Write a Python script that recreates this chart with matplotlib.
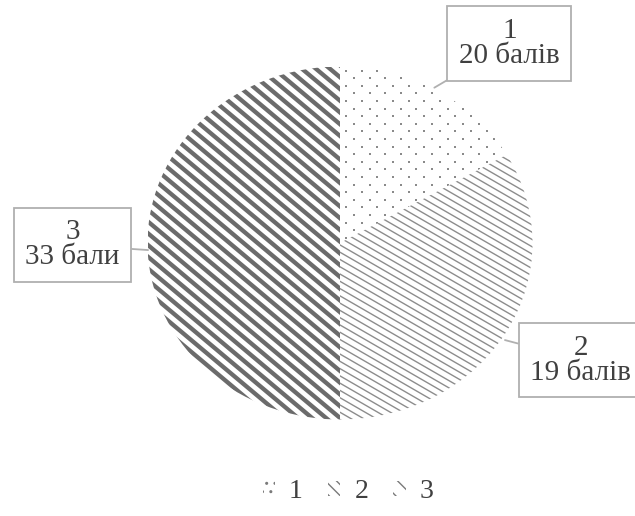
import numpy as np
import matplotlib
matplotlib.use("Agg")
import matplotlib.pyplot as plt
from matplotlib.collections import LineCollection
from matplotlib.patches import Patch

plt.rcParams['font.family'] = ['Liberation Serif', 'DejaVu Serif']

# Дані діаграми
categories = ["1", "2", "3"]
sizes = [1, 2, 3]
scores = ["20 балів", "19 балів", "33 бали"]

# розміри пирога в пікселях (на оригіналі він трохи сплющений)
RX, RY = 192.5, 176.5
CX, CY = 340, 243

fig = plt.figure(figsize=(6.35, 5.16), dpi=100)
ax = fig.add_axes([(CX - RX) / 635, (516 - CY - RY) / 516, 2 * RX / 635, 2 * RY / 516])

wedges, _ = ax.pie(sizes, startangle=90, counterclock=False,
                   colors=["white"] * 3, radius=1.0,
                   wedgeprops=dict(linewidth=0))
ax.set_aspect("auto")
ax.set_xlim(-1, 1)
ax.set_ylim(-1, 1)
ax.axis("off")


def stripes(wedge, angle, step, lw, color):
    # штрихування лініями, що йдуть вниз праворуч, обрізане по сектору
    a = np.radians(angle)
    d = np.array([np.cos(a), -np.sin(a)])
    n = np.array([np.sin(a), np.cos(a)])
    segs = []
    for k in np.arange(-260, 260, step):
        p0 = k * n - 400 * d
        p1 = k * n + 400 * d
        segs.append([(p0[0] / RX, p0[1] / RY), (p1[0] / RX, p1[1] / RY)])
    lc = LineCollection(segs, colors=color, linewidths=lw)
    ax.add_collection(lc)
    lc.set_clip_path(wedge)


def dots(wedge, dx, dy, size, color):
    xs, ys = [], []
    for j, v in enumerate(np.arange(-200, 200, dy)):
        shift = dx / 2 if j % 2 else 0
        for u in np.arange(-220, 220, dx):
            xs.append((u + shift) / RX)
            ys.append(v / RY)
    sc = ax.scatter(xs, ys, s=size, color=color, marker="s", linewidths=0)
    sc.set_clip_path(wedge)


dots(wedges[0], 15.6, 7.6, 2.2, "#8a8a8a")
stripes(wedges[1], 30, 6.3, 1.0, "#8c8c8c")
stripes(wedges[2], 40, 9.0, 3.1, "#6b6b6b")

# Підписи з виносками
label_pos = [(0.88, 1.13), (1.25, -0.663), (-1.39, -0.011)]
arrow_to = [(0.49, 0.88), (0.857, -0.55), (-0.997, -0.04)]
for i in range(3):
    ax.annotate(categories[i] + "\n" + scores[i], xy=arrow_to[i],
                xytext=label_pos[i], ha="center", va="center",
                fontsize=21, color="#404040", linespacing=0.95,
                annotation_clip=False,
                bbox=dict(boxstyle="square,pad=0.4", fc="white",
                          ec="#b0b0b0", lw=1.3),
                arrowprops=dict(arrowstyle="-", color="#b0b0b0", lw=1.3,
                                shrinkA=0, shrinkB=0))

handles = [Patch(fc="white", ec="#7a7a7a", lw=0, hatch=h) for h in ["..", "\\\\\\", "\\\\"]]
leg = ax.legend(handles, categories, loc="center",
                bbox_to_anchor=(348 / 635, 24 / 516), bbox_transform=fig.transFigure,
                ncol=3, frameon=False, fontsize=20, handlelength=0.45,
                handleheight=0.45, handletextpad=0.5, columnspacing=0.9)
for t in leg.get_texts():
    t.set_color("#404040")

fig.savefig("out.png", dpi=100)
